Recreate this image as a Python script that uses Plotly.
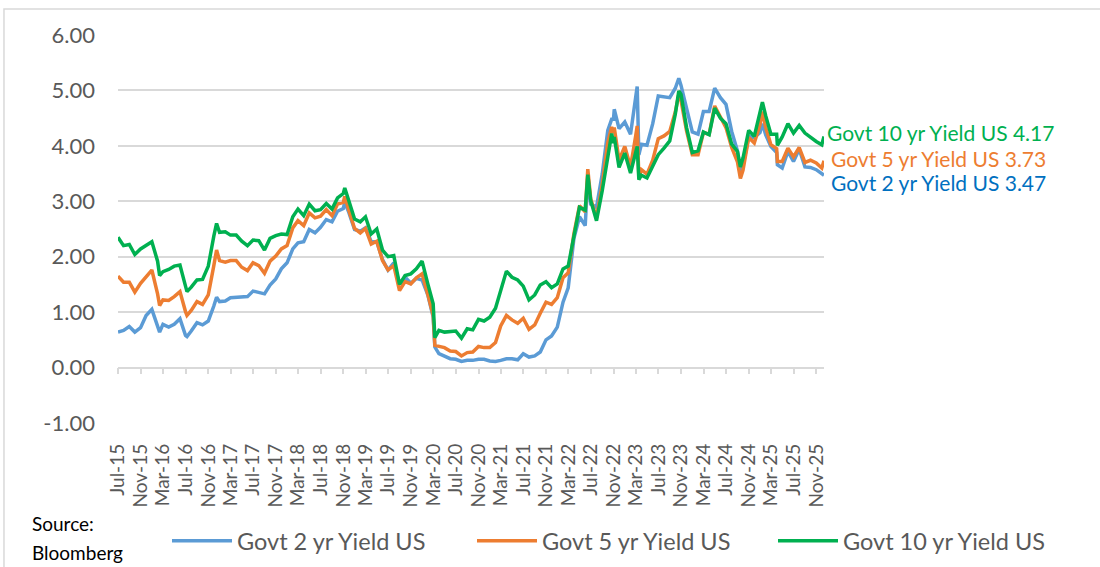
import pandas as pd
import plotly.graph_objects as go

# ---------------- data (US Treasury yields, %) ----------------
# month-end readings, Jul-2015 .. Nov-2025
month_end_dates = pd.date_range("2015-07-31", "2025-11-30", freq="ME")

y2_month = [
    0.67, 0.74, 0.64, 0.72, 0.94, 1.05,
    0.78, 0.78, 0.73, 0.78, 0.88, 0.58, 0.66, 0.81, 0.77, 0.84, 1.11, 1.19,
    1.20, 1.26, 1.27, 1.28, 1.28, 1.38, 1.35, 1.33, 1.49, 1.60, 1.78, 1.89,
    2.14, 2.25, 2.27, 2.49, 2.43, 2.53, 2.67, 2.63, 2.82, 2.87, 2.80, 2.49,
    2.46, 2.52, 2.27, 2.27, 1.95, 1.76, 1.89, 1.51, 1.63, 1.52, 1.61, 1.58,
    1.31, 0.91, 0.25, 0.20, 0.16, 0.15, 0.11, 0.13, 0.13, 0.15, 0.15, 0.12,
    0.11, 0.13, 0.16, 0.16, 0.14, 0.25, 0.19, 0.21, 0.28, 0.50, 0.57, 0.73,
    1.18, 1.44, 2.33, 2.72, 2.56, 2.95, 2.89, 3.49, 4.28, 4.48, 4.31, 4.43,
    4.21, 4.81, 4.03, 4.01, 4.40, 4.90, 4.88, 4.87, 5.04, 5.09, 4.68, 4.25,
    4.21, 4.62, 4.62, 5.04, 4.87, 4.75, 4.26, 3.91, 3.64, 4.17, 4.15, 4.24,
    4.20, 3.99, 3.88, 3.60, 3.90, 3.72, 3.94, 3.62, 3.61, 3.57, 3.49,
]
y5_month = [
    1.54, 1.54, 1.36, 1.52, 1.65, 1.76,
    1.33, 1.22, 1.21, 1.28, 1.37, 1.01, 1.03, 1.19, 1.14, 1.31, 1.84, 1.93,
    1.90, 1.93, 1.93, 1.81, 1.75, 1.89, 1.84, 1.70, 1.92, 2.01, 2.14, 2.20,
    2.52, 2.65, 2.56, 2.79, 2.70, 2.73, 2.85, 2.74, 2.95, 2.98, 2.84, 2.51,
    2.43, 2.51, 2.23, 2.28, 1.93, 1.76, 1.84, 1.39, 1.55, 1.51, 1.62, 1.69,
    1.32, 0.94, 0.38, 0.36, 0.30, 0.29, 0.21, 0.27, 0.28, 0.38, 0.36, 0.36,
    0.45, 0.75, 0.94, 0.86, 0.80, 0.89, 0.69, 0.77, 0.98, 1.18, 1.14, 1.26,
    1.62, 1.71, 2.42, 2.92, 2.81, 3.04, 2.70, 3.30, 4.06, 4.23, 3.74, 3.99,
    3.62, 4.18, 3.57, 3.49, 3.74, 4.13, 4.18, 4.26, 4.61, 4.82, 4.27, 3.84,
    3.84, 4.24, 4.21, 4.72, 4.52, 4.33, 3.97, 3.71, 3.56, 4.15, 4.05, 4.38,
    4.33, 4.02, 3.95, 3.72, 3.96, 3.80, 3.97, 3.70, 3.74, 3.69, 3.60,
]
y10_month = [
    2.20, 2.22, 2.04, 2.14, 2.21, 2.27,
    1.92, 1.73, 1.77, 1.83, 1.85, 1.47, 1.45, 1.58, 1.59, 1.83, 2.37, 2.44,
    2.45, 2.39, 2.39, 2.28, 2.20, 2.30, 2.29, 2.12, 2.33, 2.38, 2.41, 2.40,
    2.72, 2.86, 2.74, 2.95, 2.83, 2.85, 2.96, 2.86, 3.06, 3.14, 3.01, 2.68,
    2.63, 2.72, 2.41, 2.50, 2.12, 2.00, 2.02, 1.50, 1.66, 1.69, 1.78, 1.92,
    1.51, 1.15, 0.67, 0.64, 0.65, 0.66, 0.53, 0.70, 0.68, 0.87, 0.84, 0.91,
    1.07, 1.40, 1.74, 1.63, 1.58, 1.47, 1.22, 1.31, 1.49, 1.55, 1.44, 1.51,
    1.78, 1.83, 2.34, 2.89, 2.84, 3.01, 2.65, 3.19, 3.83, 4.05, 3.61, 3.87,
    3.51, 3.92, 3.47, 3.42, 3.64, 3.84, 3.96, 4.09, 4.57, 4.93, 4.33, 3.88,
    3.91, 4.25, 4.20, 4.68, 4.50, 4.40, 4.03, 3.90, 3.78, 4.28, 4.17, 4.57,
    4.54, 4.21, 4.21, 4.16, 4.40, 4.23, 4.37, 4.23, 4.15, 4.08, 4.02,
]

# additional readings (start, intra-month extremes, latest)
extra_dates = ["2015-07-01", "2016-02-11", "2016-07-08", "2016-12-15", "2018-11-08",
               "2020-03-09", "2022-06-14", "2022-10-21", "2022-11-04", "2023-03-08",
               "2023-03-17", "2023-10-19", "2024-09-16", "2025-01-13", "2025-04-04",
               "2025-12-12"]
extra_y2 = [0.64, 0.64, 0.56, 1.27, 2.98, 0.37, 3.43, 4.48, 4.66, 5.07,
            3.84, 5.22, 3.56, 4.40, 3.66, 3.47]
extra_y5 = [1.65, 1.12, 0.94, 2.12, 3.09, 0.40, 3.58, 4.34, 4.33, 4.36,
            3.43, 4.93, 3.41, 4.62, 3.72, 3.73]
extra_y10 = [2.35, 1.66, 1.37, 2.60, 3.24, 0.54, 3.48, 4.22, 4.16, 3.99,
             3.39, 4.99, 3.62, 4.79, 4.01, 4.17]

series_names = ["Govt 2 yr Yield US", "Govt 5 yr Yield US", "Govt 10 yr Yield US"]
line_colors = ["#5B9BD5", "#ED7D31", "#00B050"]
label_colors = ["#0070C0", "#ED7D31", "#00B050"]

y_tickvals = [-1, 0, 1, 2, 3, 4, 5, 6]
y_ticktext = ["-1.00", "0.00", "1.00", "2.00", "3.00", "4.00", "5.00", "6.00"]
tick_dates = pd.date_range("2015-07-01", "2025-11-01", freq="4MS")

# ---------------- build table ----------------
df = pd.concat([
    pd.DataFrame({"date": month_end_dates, "y2": y2_month, "y5": y5_month, "y10": y10_month}),
    pd.DataFrame({"date": pd.to_datetime(extra_dates), "y2": extra_y2, "y5": extra_y5, "y10": extra_y10}),
]).sort_values("date").reset_index(drop=True)

FONT = "Lato, Carlito, Calibri, sans-serif"
GRID = "#d9d9d9"
TXT = "#595959"

fig = go.Figure()
legend_ids = ["legend", "legend2", "legend3"]
for col, name, color, lg in zip(["y2", "y5", "y10"], series_names, line_colors, legend_ids):
    fig.add_trace(go.Scatter(x=df["date"], y=df[col], mode="lines", name=name, legend=lg,
                             line=dict(color=color, width=3.5)))
# carrier for the zero-crossing category axis
fig.add_trace(go.Scatter(x=[], y=[], xaxis="x2", yaxis="y", showlegend=False, hoverinfo="skip"))

last = df.iloc[-1]
shifts = [(5, -7), (5, 2), (1, 4)]
for col, name, color, (xs, ys) in zip(["y2", "y5", "y10"], series_names, label_colors, shifts):
    fig.add_annotation(x=last["date"], y=last[col], text=f"{name} {last[col]:.2f}",
                       xanchor="left", yanchor="middle", showarrow=False,
                       xshift=xs, yshift=ys, font=dict(family=FONT, size=21, color=color))

fig.add_annotation(xref="paper", yref="paper", x=-0.125, y=-0.26, text="Source:",
                   showarrow=False, xanchor="left", yanchor="middle",
                   font=dict(family=FONT, size=19, color="#000000"))
fig.add_annotation(xref="paper", yref="paper", x=-0.125, y=-0.333, text="Bloomberg",
                   showarrow=False, xanchor="left", yanchor="middle",
                   font=dict(family=FONT, size=19, color="#000000"))

# chart-area border
fig.add_shape(type="rect", xref="paper", yref="paper", x0=-0.1615, x1=1.45, y0=-0.6, y1=1.067,
              line=dict(color=GRID, width=1.5), layer="below")

legend_style = dict(orientation="h", xref="container", yref="container", y=0.0459,
                    xanchor="left", yanchor="middle", itemwidth=60,
                    font=dict(family=FONT, size=23.5, color=TXT), bgcolor="rgba(0,0,0,0)")

xrange = [df["date"].iloc[0], df["date"].iloc[-1]]
fig.update_layout(
    width=1100, height=567,
    margin=dict(l=118, r=276, t=35, b=144, autoexpand=False),
    paper_bgcolor="white", plot_bgcolor="white",
    font=dict(family=FONT, color=TXT),
    showlegend=True,
    legend=dict(x=167 / 1100, **legend_style),
    legend2=dict(x=472 / 1100, **legend_style),
    legend3=dict(x=773 / 1100, **legend_style),
    xaxis=dict(type="date", range=xrange, tickvals=tick_dates, tickformat="%b-%y",
               tickangle=-90, ticks="", showgrid=False, showline=False, zeroline=False,
               automargin=False,
               tickfont=dict(family=FONT, size=19, color=TXT), ticklabelstandoff=16),
    xaxis2=dict(type="date", range=xrange, overlaying="x", anchor="free", position=1/7,
                side="bottom", tickvals=tick_dates, showticklabels=False, ticks="outside",
                ticklen=6, tickwidth=1.5, tickcolor=GRID, showline=True, linecolor=GRID,
                linewidth=1.5, showgrid=False, zeroline=False, automargin=False),
    yaxis=dict(range=[-1, 6], tickvals=y_tickvals, ticktext=y_ticktext, showgrid=True,
               gridcolor=GRID, gridwidth=1.5, zeroline=False, showline=False, ticks="",
               automargin=False,
               tickfont=dict(family=FONT, size=22, color=TXT), ticklabelstandoff=22),
)

fig.write_html("out.html", config={"displayModeBar": False},
               post_script="document.body.style.margin='0';")
